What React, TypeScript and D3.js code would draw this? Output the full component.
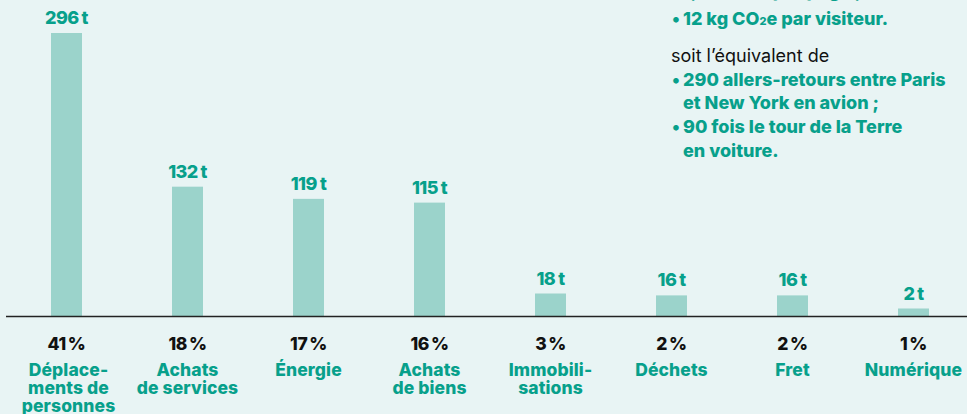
import React from "react";
import * as d3 from "d3";

const categories = ["Déplacements de personnes", "Achats de services", "Énergie", "Achats de biens", "Immobilisations", "Déchets", "Fret", "Numérique"];
const categoryLines = [
  ["Déplace-", "ments de", "personnes"],
  ["Achats", "de services"],
  ["Énergie"],
  ["Achats", "de biens"],
  ["Immobili-", "sations"],
  ["Déchets"],
  ["Fret"],
  ["Numérique"],
];
const values = [296, 132, 119, 115, 18, 16, 16, 2];
const valueNumbers = ["296", "132", "119", "115", "18", "16", "16", "2"];
const percentNumbers = ["41", "18", "17", "16", "3", "2", "2", "1"];

const W = 967;
const H = 414;
const TEAL = "#07a08b";
const BAR = "#9bd3cb";
const BG = "#e8f4f4";
const FONT = "Inter, 'Open Sans', sans-serif";

export default function App() {
  const baseline = 316;
  const x = d3.scaleBand<string>().domain(categories).range([6, 974]).paddingInner(0.744).paddingOuter(0.372);
  const y = d3.scaleLinear().domain([-6, 296]).range([baseline, 33]);

  const textX = 683;
  const bulletX = 672;

  return (
    <div style={{ position: "absolute", left: 0, top: 0 }}>
      <svg width={W} height={H} style={{ display: "block", background: BG }} fontFamily={FONT}>
        <rect x={0} y={0} width={W} height={H} fill={BG} />
        {categories.map((c, i) => {
          const bx = x(c)!;
          const bw = x.bandwidth();
          const cx = bx + bw / 2;
          const top = y(values[i]);
          return (
            <g key={c}>
              <rect x={bx} y={top} width={bw} height={baseline - top} fill={BAR} />
              <text x={cx} y={top - 9} textAnchor="middle" fill={TEAL} fontWeight={800} fontSize={18} letterSpacing={-0.6}>
                {valueNumbers[i]}
                <tspan dx={3}>t</tspan>
              </text>
              <text x={cx} y={350} textAnchor="middle" fill="#111" fontWeight={800} fontSize={17.5} letterSpacing={-0.4}>
                {percentNumbers[i]}
                <tspan dx={2}>%</tspan>
              </text>
              {categoryLines[i].map((ln, k) => (
                <text key={k} x={cx + (i === 0 ? 2 : 0)} y={376 + 18 * k} textAnchor="middle" fill={TEAL} fontWeight={800} fontSize={17.5} letterSpacing={0.1}>
                  {ln}
                </text>
              ))}
            </g>
          );
        })}
        <line x1={6} x2={W} y1={baseline + 0.5} y2={baseline + 0.5} stroke="#222" strokeWidth={1.5} />

        <g fontSize={18} fontWeight={800} fill={TEAL} letterSpacing={0}>
          <text x={bulletX} y={-3}>•</text>
          <text x={textX} y={-3}>
            1,5 t CO<tspan fontSize={11}>2</tspan>e par page ;
          </text>
          <text x={bulletX} y={25}>•</text>
          <text x={textX} y={25}>
            12 kg CO<tspan fontSize={11}>2</tspan>e par visiteur.
          </text>
          <text x={bulletX - 1} y={62} fill="#111" fontWeight={400}>
            soit l’équivalent de
          </text>
          <text x={bulletX} y={86}>•</text>
          <text x={textX} y={86}>290 allers-retours entre Paris</text>
          <text x={textX} y={109}>et New York en avion ;</text>
          <text x={bulletX} y={133}>•</text>
          <text x={textX} y={133}>90 fois le tour de la Terre</text>
          <text x={textX} y={157}>en voiture.</text>
        </g>
      </svg>
    </div>
  );
}
